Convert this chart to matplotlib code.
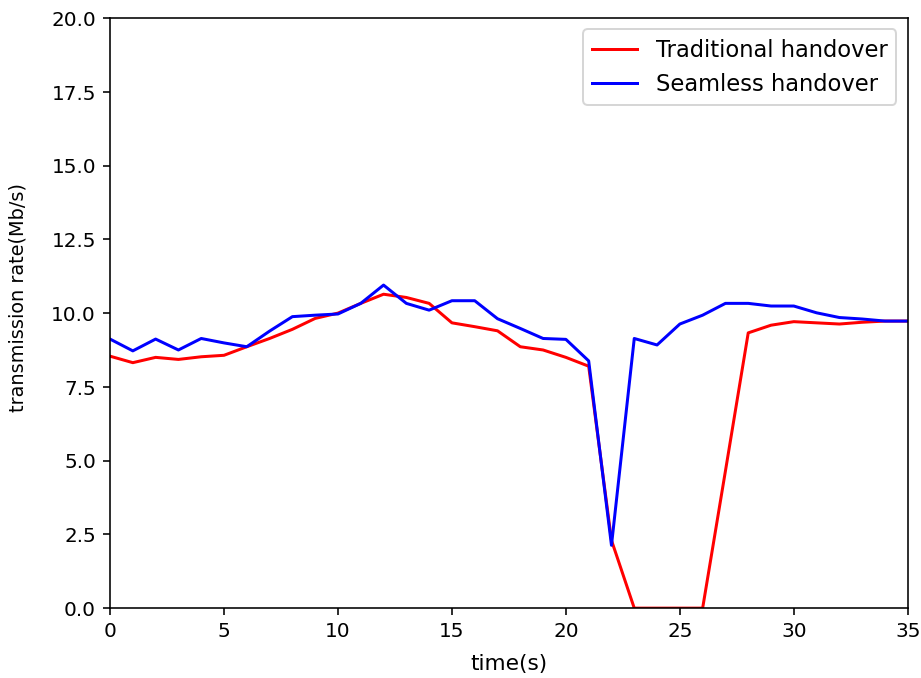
import matplotlib
matplotlib.use('Agg')
import matplotlib.pyplot as plt

# transmission rate per second, both handover schemes
t = list(range(36))
traditional = [8.54, 8.32, 8.50, 8.43, 8.52, 8.57, 8.86, 9.14, 9.45, 9.82,
               10.0, 10.33, 10.64, 10.53, 10.33, 9.67, 9.54, 9.40, 8.86, 8.75,
               8.50, 8.20, 2.30, 0.0, 0.0, 0.0, 0.0, 4.65, 9.33, 9.59,
               9.71, 9.67, 9.63, 9.69, 9.73, 9.73]
seamless = [9.12, 8.72, 9.12, 8.75, 9.14, 8.99, 8.86, 9.39, 9.88, 9.93,
            9.97, 10.33, 10.95, 10.33, 10.10, 10.42, 10.42, 9.81, 9.48, 9.14,
            9.11, 8.38, 2.13, 9.14, 8.92, 9.63, 9.93, 10.33, 10.33, 10.24,
            10.24, 10.01, 9.85, 9.80, 9.73, 9.73]

fig = plt.figure(figsize=(6.4, 4.71), dpi=144)
ax = fig.add_axes([0.1194, 0.103, 0.8656, 0.870])
ax.plot(t, traditional, color='red', label='Traditional handover')
ax.plot(t, seamless, color='blue', label='Seamless handover')
ax.set_xlim(0, 35)
ax.set_ylim(0, 20)
ax.set_xlabel('time(s)', fontsize=10.8)
ax.set_ylabel('transmission rate(Mb/s)', fontsize=9.6)
ax.yaxis.set_label_coords(-0.103, 0.527)
ax.xaxis.set_label_coords(0.5, -0.077)
ax.legend(loc='upper right', fontsize=11.3)

fig.savefig('out.png', dpi=144)
